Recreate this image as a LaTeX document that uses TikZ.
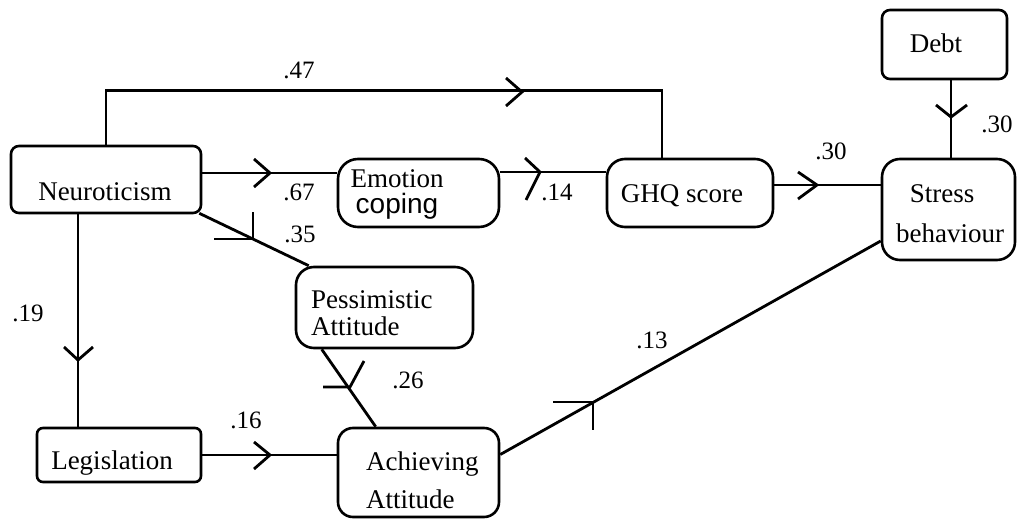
\documentclass[tikz,border=0pt]{standalone}
\usepackage{fontspec}
\setmainfont{Liberation Serif}
\newfontfamily\plainsans{Liberation Sans}
\begin{document}
\begin{tikzpicture}[x=1pt,y=-1pt,
  box/.style={draw=black, line width=2.6pt, inner sep=0pt},
  txt/.style={font=\fontsize{27}{32}\selectfont, inner sep=0pt, anchor=base},
  txtl/.style={txt, anchor=base west},
  coef/.style={font=\fontsize{25}{30}\selectfont, inner sep=0pt, anchor=base},
  path/.style={line width=2.8pt, line join=miter},
  tick/.style={line width=2.8pt, line join=miter, line cap=butt}]
\useasboundingbox (0,0) rectangle (1018,519);

% variable boxes
\node[box, rounded corners=8pt,  minimum width=190pt, minimum height=67pt]  (neuro)  at (106,179.5) {};
\node[box, rounded corners=20pt, minimum width=161pt, minimum height=68pt]  (emo)    at (418.5,193) {};
\node[box, rounded corners=18pt, minimum width=166pt, minimum height=68pt]  (ghq)    at (690,193) {};
\node[box, rounded corners=18pt, minimum width=133pt, minimum height=101pt] (stress) at (948.5,209.5) {};
\node[box, rounded corners=8pt,  minimum width=125pt, minimum height=69pt]  (debt)   at (944.5,44.5) {};
\node[box, rounded corners=18pt, minimum width=177pt, minimum height=81pt]  (pess)   at (384.5,307.5) {};
\node[box, rounded corners=15pt, minimum width=161pt, minimum height=89pt]  (ach)    at (418.5,472.5) {};
\node[box, rounded corners=6pt,  minimum width=164pt, minimum height=54pt]  (legis)  at (119,455) {};

% box texts
\node[txt]  (neuro-t)   at (105,200) {Neuroticism};
\node[txt]  (emo-t1)    at (397,187) {Emotion};
\node[txt, font=\plainsans\fontsize{28}{32}\selectfont] (emo-t2) at (397,213) {coping};
\node[txt]  (ghq-t)     at (682,202) {GHQ score};
\node[txt]  (stress-t1) at (942,202) {Stress};
\node[txt]  (stress-t2) at (950,242) {behaviour};
\node[txt]  (debt-t)    at (936,53)  {Debt};
\node[txtl] (pess-t1)   at (311,308) {Pessimistic};
\node[txtl] (pess-t2)   at (311,335) {Attitude};
\node[txtl] (ach-t1)    at (366,470) {Achieving};
\node[txtl] (ach-t2)    at (366,508) {Attitude};
\node[txt]  (legis-t)   at (112,469) {Legislation};

% attachment points on the box edges
\coordinate (n-right) at ([yshift=6.5pt]neuro.east);
\coordinate (n-down)  at ([xshift=-28pt]neuro.south);
\coordinate (e-right) at ([yshift=21pt]emo.east);
\coordinate (g-right) at ([yshift=8pt]ghq.east);
\coordinate (d-down)  at ([xshift=6.5pt]debt.south);
\coordinate (a-right) at ([yshift=18pt]ach.east);

% paths
\draw[path] (neuro.north) -- ++(0,-54) -| ([xshift=-28pt]ghq.north);
\draw[path] (n-right) -- (n-right -| emo.west);
\draw[path] (e-right) -- (e-right -| ghq.west);
\draw[path] (g-right) -- (g-right -| stress.west);
\draw[path] (d-down) -- (d-down |- stress.north);
\draw[path] (n-down) -- (n-down |- legis.north);
\draw[path] (legis.east) -- (legis.east -| ach.west);
\draw[path] ([xshift=-3pt,yshift=1pt]neuro.south east) -- ([xshift=14pt]pess.north west);
\draw[path] ([xshift=27pt]pess.south west) -- ([xshift=39pt]ach.north west);
\draw[path] (a-right) -- ([yshift=-31.5pt]stress.west);

% direction marks
\draw[tick] (506,78) -- (522,92) -- (506,106);
\draw[tick] (254,159) -- (270,173) -- (254,187);
\draw[tick] (525,158) -- (540,172) -- (526,200);
\draw[tick] (798,172) -- (817,185) -- (798,199);
\draw[tick] (936,105) -- (951,117) -- (967,105);
\draw[tick] (64,347) -- (78,360) -- (93,347);
\draw[tick] (254,442) -- (270,455) -- (254,469);
\draw[tick] (253,212) -- (253,239) -- (214,239);
\draw[tick] (323,387) -- (350,387) -- (364,361);
\draw[tick] (553,402) -- (593,402) -- (593,430);

% path coefficients
\node[coef] (c47)  at (299,78)  {.47};
\node[coef] (c67)  at (299,200) {.67};
\node[coef] (c35)  at (300,242) {.35};
\node[coef] (c14)  at (557,200) {.14};
\node[coef] (c30a) at (831,159) {.30};
\node[coef] (c30b) at (997,132) {.30};
\node[coef] (c19)  at (28,321)  {.19};
\node[coef] (c16)  at (246,428) {.16};
\node[coef] (c26)  at (408,388) {.26};
\node[coef] (c13)  at (652,348) {.13};
\end{tikzpicture}
\end{document}
